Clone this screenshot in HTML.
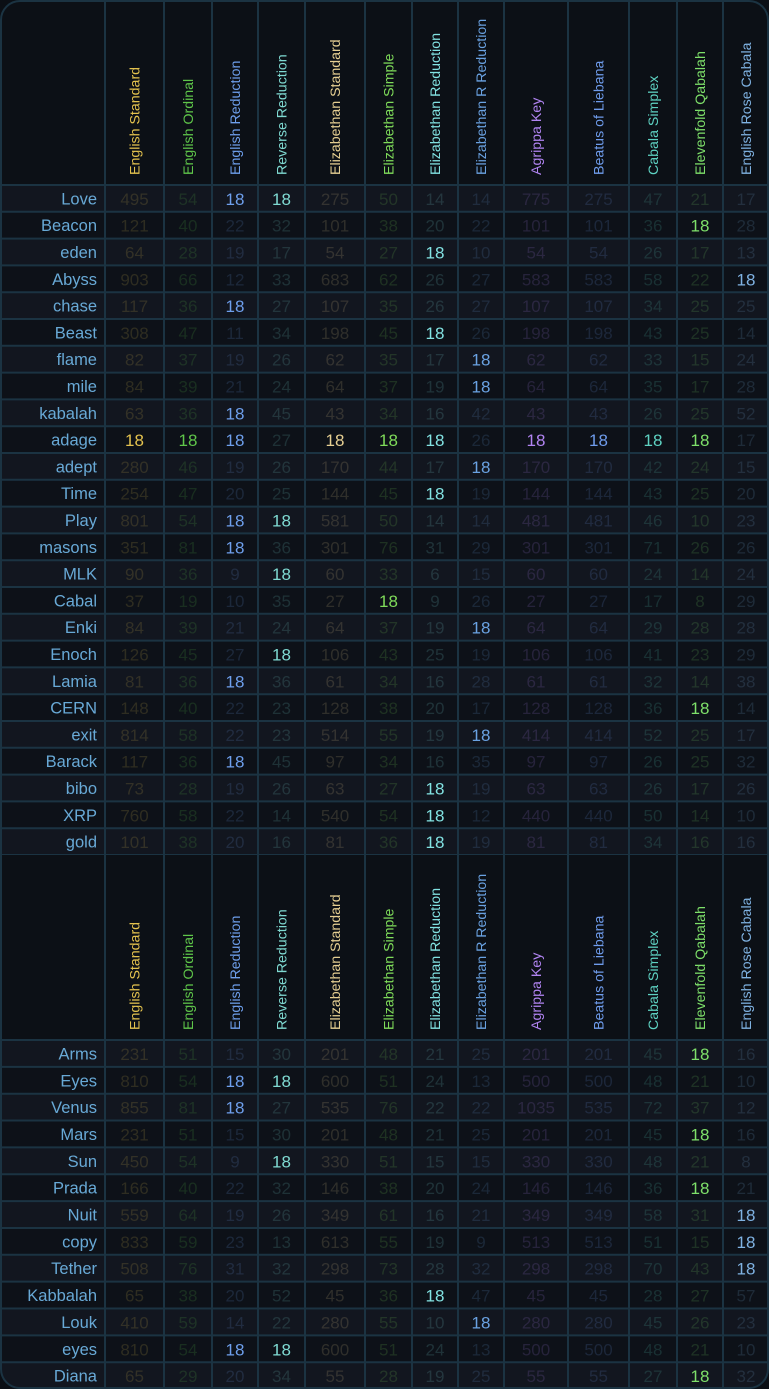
<!DOCTYPE html>
<html><head><meta charset="utf-8"><style>
html,body{margin:0;padding:0;background:#0b0f15;}
svg{display:block;font-family:"Liberation Sans",sans-serif;}
</style></head><body>
<svg id="t" width="769" height="1389" viewBox="0 0 769 1389" xmlns="http://www.w3.org/2000/svg"></svg>
<script>
const ciphers=["English Standard","English Ordinal","English Reduction","Reverse Reduction","Elizabethan Standard","Elizabethan Simple","Elizabethan Reduction","Elizabethan R Reduction","Agrippa Key","Beatus of Liebana","Cabala Simplex","Elevenfold Qabalah","English Rose Cabala"];
const colors=["#e3c24e","#5fc64a","#6e9fec","#7fdad2","#e6cf92","#7fdc5a","#82e2e2","#6aa2e2","#b184f2","#6f9cec","#5ed2c2","#7ee06a","#7fb2e2"];
const words1=["Love","Beacon","eden","Abyss","chase","Beast","flame","mile","kabalah","adage","adept","Time","Play","masons","MLK","Cabal","Enki","Enoch","Lamia","CERN","exit","Barack","bibo","XRP","gold"];
const values1=[
[495,54,18,18,275,50,14,14,775,275,47,21,17],
[121,40,22,32,101,38,20,22,101,101,36,18,28],
[64,28,19,17,54,27,18,10,54,54,26,17,13],
[903,66,12,33,683,62,26,27,583,583,58,22,18],
[117,36,18,27,107,35,26,27,107,107,34,25,25],
[308,47,11,34,198,45,18,26,198,198,43,25,14],
[82,37,19,26,62,35,17,18,62,62,33,15,24],
[84,39,21,24,64,37,19,18,64,64,35,17,28],
[63,36,18,45,43,34,16,42,43,43,26,25,52],
[18,18,18,27,18,18,18,26,18,18,18,18,17],
[280,46,19,26,170,44,17,18,170,170,42,24,15],
[254,47,20,25,144,45,18,19,144,144,43,25,20],
[801,54,18,18,581,50,14,14,481,481,46,10,23],
[351,81,18,36,301,76,31,29,301,301,71,26,26],
[90,36,9,18,60,33,6,15,60,60,24,14,24],
[37,19,10,35,27,18,9,26,27,27,17,8,29],
[84,39,21,24,64,37,19,18,64,64,29,28,28],
[126,45,27,18,106,43,25,19,106,106,41,23,29],
[81,36,18,36,61,34,16,28,61,61,32,14,38],
[148,40,22,23,128,38,20,17,128,128,36,18,14],
[814,58,22,23,514,55,19,18,414,414,52,25,17],
[117,36,18,45,97,34,16,35,97,97,26,25,32],
[73,28,19,26,63,27,18,19,63,63,26,17,26],
[760,58,22,14,540,54,18,12,440,440,50,14,10],
[101,38,20,16,81,36,18,19,81,81,34,16,16]];
const words2=["Arms","Eyes","Venus","Mars","Sun","Prada","Nuit","copy","Tether","Kabbalah","Louk","eyes","Diana"];
const values2=[
[231,51,15,30,201,48,21,25,201,201,45,18,16],
[810,54,18,18,600,51,24,13,500,500,48,21,10],
[855,81,18,27,535,76,22,22,1035,535,72,37,12],
[231,51,15,30,201,48,21,25,201,201,45,18,16],
[450,54,9,18,330,51,15,15,330,330,48,21,8],
[166,40,22,32,146,38,20,24,146,146,36,18,21],
[559,64,19,26,349,61,16,21,349,349,58,31,18],
[833,59,23,13,613,55,19,9,513,513,51,15,18],
[508,76,31,32,298,73,28,32,298,298,70,43,18],
[65,38,20,52,45,36,18,47,45,45,28,27,57],
[410,59,14,22,280,55,10,18,280,280,45,26,23],
[810,54,18,18,600,51,24,13,500,500,48,21,10],
[65,29,20,34,55,28,19,25,55,55,27,18,32]];
const target=18;

const NS="http://www.w3.org/2000/svg";
const svg=document.getElementById('t');
const edges=[0,105,164,212,258,305,365,412,458,504,568,629,677,723,769];
const LINE="#1b3342";
function mk(tag,attrs,parent){const e=document.createElementNS(NS,tag);for(const k in attrs)e.setAttribute(k,attrs[k]);(parent||svg).appendChild(e);return e;}
function hexA(c,a){return c+Math.round(a*255).toString(16).padStart(2,'0');}

const defs=mk('defs',{});
const cp=mk('clipPath',{id:'clip'},defs);
mk('rect',{x:0,y:0,width:769,height:1389,rx:20},cp);
const g=mk('g',{'clip-path':'url(#clip)'});
mk('rect',{x:0,y:0,width:769,height:1389,fill:'#0d1118'},g);

function block(y0,words,vals,hdrH,rowH,prefix){
  const hb=mk('rect',{x:0,y:y0,width:769,height:hdrH,fill:'#0c1016'},g);
  
  
  ciphers.forEach((c,i)=>{
    const cx=(edges[i+1]+edges[i+2])/2+5, by=y0+hdrH-10;
    const t=mk('text',{x:cx,y:by,transform:`rotate(-90 ${cx} ${by})`,fill:colors[i],'font-size':14.2},g);
    
    
    t.textContent=c;
  });
  const ry=y0+hdrH;
  words.forEach((w,r)=>{
    const y=ry+r*rowH;
    const row=mk('g',{},g);
    
    
    mk('rect',{x:0,y:y,width:769,height:rowH,fill:r%2===0?'#12161f':'#0d1118'},row);
    const lab=mk('text',{x:97,y:y+rowH/2+6,'text-anchor':'end',fill:'#68a9d6','font-size':16.5},row);
    
    
    lab.textContent=w;
    vals[r].forEach((v,i)=>{
      const cx=(edges[i+1]+edges[i+2])/2;
      const hit=v===target;
      const t=mk('text',{x:cx,y:y+rowH/2+6.5,'text-anchor':'middle','font-size':17,fill:hit?colors[i]:hexA(colors[i],0.16)},row);
      
      
      t.textContent=v;
    });
  });
  const end=ry+words.length*rowH;
  for(let r=0;r<=words.length;r++) mk('line',{x1:0,x2:769,y1:ry+r*rowH,y2:ry+r*rowH,stroke:LINE,'stroke-width':2},g);
  for(let i=1;i<edges.length-1;i++) mk('line',{x1:edges[i],x2:edges[i],y1:y0,y2:end,stroke:LINE,'stroke-width':2},g);
}
block(0,words1,values1,185,26.8,'block1');
block(855,words2,values2,185,26.85,'block2');
mk('rect',{x:1,y:1,width:767,height:1387,rx:19,fill:'none',stroke:LINE,'stroke-width':2});
</script>
</body></html>
